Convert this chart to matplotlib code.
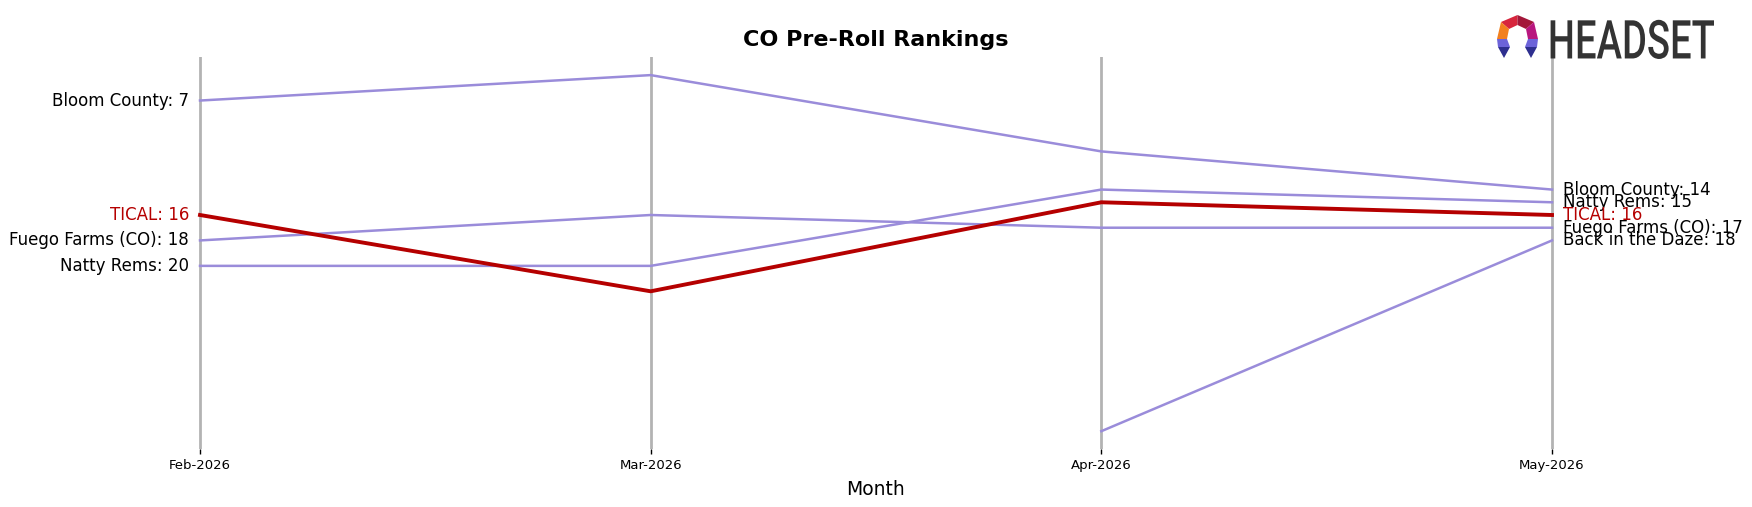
import numpy as np
import matplotlib
matplotlib.use("Agg")
import matplotlib.pyplot as plt
from matplotlib.textpath import TextPath
from matplotlib.patches import PathPatch, Polygon
from matplotlib.font_manager import FontProperties
from matplotlib.transforms import Affine2D

months = ["Feb-2026", "Mar-2026", "Apr-2026", "May-2026"]
brands = ["Bloom County", "Fuego Farms (CO)", "Natty Rems", "Back in the Daze", "TICAL"]
bloom_county = [7, 5, 11, 14]
fuego_farms = [18, 16, 17, 17]
natty_rems = [20, 20, 14, 15]
back_in_the_daze = [np.nan, np.nan, 33, 18]
tical = [16, 22, 15, 16]
series = [bloom_county, fuego_farms, natty_rems, back_in_the_daze, tical]
highlight = "TICAL"

W, H = 1752, 507
fig = plt.figure(figsize=(W / 100, H / 100), dpi=100)
ax = fig.add_axes([132.4 / W, 58 / H, 1487.2 / W, 391.7 / H])

purple = "#9a8cda"
red = "#b50000"
x = np.arange(len(months))

for i in x:
    ax.axvline(i, color="#b3b3b3", lw=2.0, zorder=0)

for name, vals in zip(brands, series):
    v = np.array(vals, dtype=float)
    if name == highlight:
        ax.plot(x, v, color=red, lw=2.8, zorder=3)
    else:
        ax.plot(x, v, color=purple, lw=1.8, zorder=2)

for name, vals in zip(brands, series):
    col = red if name == highlight else "black"
    if not np.isnan(vals[0]):
        ax.annotate(f"{name}: {int(vals[0])}", xy=(0, vals[0]), xytext=(-8, 0),
                    textcoords="offset points", ha="right", va="center",
                    fontsize=12, color=col)
    if not np.isnan(vals[-1]):
        ax.annotate(f"{name}: {int(vals[-1])}", xy=(x[-1], vals[-1]), xytext=(8, 0),
                    textcoords="offset points", ha="left", va="center",
                    fontsize=12, color=col)

ax.set_xlim(-0.15, 3.15)
ax.set_ylim(34.4, 3.6)
ax.set_xticks(x)
ax.set_xticklabels(months, fontsize=9.5)
ax.tick_params(axis="x", length=3.5, width=1, colors="black")
ax.set_yticks([])
for s in ax.spines.values():
    s.set_visible(False)
ax.set_xlabel("Month", fontsize=13.5, labelpad=6)
ax.set_title("CO Pre-Roll Rankings", fontsize=16, fontweight="bold", pad=8)

# Logo
def px_tr(sx, sy, tx, ty):
    return Affine2D().scale(sx, sy).translate(tx, ty).scale(1 / W, 1 / H) + fig.transFigure

tp = TextPath((0, 0), "HEADSET", size=100, prop=FontProperties(family="Roboto", weight="medium"))
ext = tp.get_extents()
x0, x1, y0, y1 = 1550.6, 1714.0, H - 59.0, H - 19.8
sx = (x1 - x0) / ext.width
sy = (y1 - y0) / ext.height
fig.patches.append(PathPatch(tp, transform=px_tr(sx, sy, x0 - ext.x0 * sx, y0 - ext.y0 * sy),
                             facecolor="#333333", edgecolor="none"))

ix, iy = 1496.0, 15.0
def icon_poly(pts, color):
    P = [(ix + px, H - (iy + py)) for px, py in pts]
    fig.patches.append(Polygon(P, closed=True, transform=Affine2D().scale(1 / W, 1 / H) + fig.transFigure,
                               facecolor=color, edgecolor="none"))

icon_poly([(5, 7), (21.5, 0), (21.5, 10), (13, 14)], "#d7263d")
icon_poly([(21.5, 0), (38, 7), (30, 14), (21.5, 10)], "#a3173a")
icon_poly([(5, 7), (13, 14), (11, 24), (1, 24)], "#f2801f")
icon_poly([(38, 7), (42, 24), (32, 24), (30, 14)], "#b8177f")
icon_poly([(1, 24), (11, 24), (14, 32), (2, 32)], "#6c63d9")
icon_poly([(2, 32), (14, 32), (8, 43)], "#2e2f8f")
icon_poly([(32, 24), (42, 24), (41, 32), (29, 32)], "#6c63d9")
icon_poly([(29, 32), (41, 32), (35, 43)], "#2e2f8f")

fig.savefig("out.png", dpi=100)
